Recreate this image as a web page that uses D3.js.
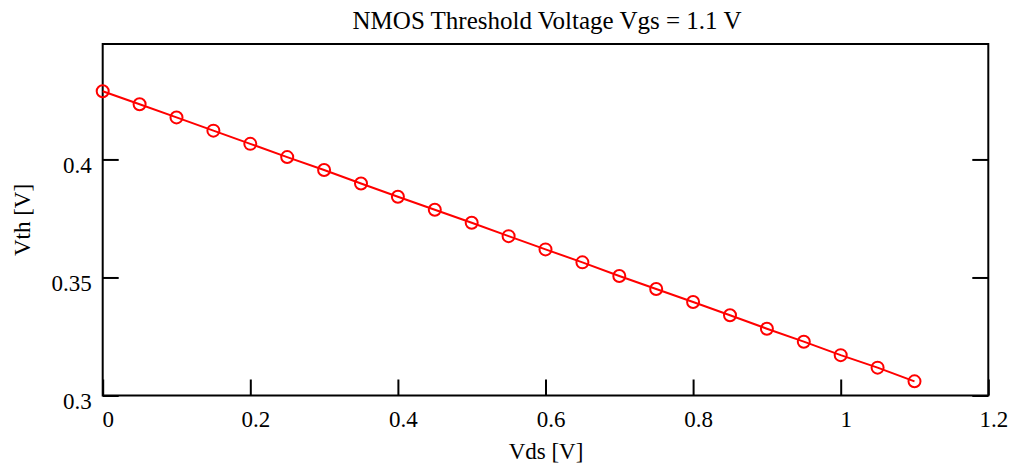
<!DOCTYPE html>
<html>
<head>
<meta charset="utf-8">
<script src="https://cdn.jsdelivr.net/npm/d3@7/dist/d3.min.js"></script>
<style>
  html, body { margin: 0; padding: 0; background: #fff; }
  svg { display: block; }
  text { font-family: "Liberation Serif", "Times New Roman", serif; fill: #000; }
</style>
</head>
<body>
<svg id="chart" width="1012" height="467"></svg>
<script>
// Data
const vds = [0, 0.05, 0.1, 0.15, 0.2, 0.25, 0.3, 0.35, 0.4, 0.45, 0.5, 0.55,
             0.6, 0.65, 0.7, 0.75, 0.8, 0.85, 0.9, 0.95, 1.0, 1.05, 1.1];
const vth = [0.4289, 0.4234, 0.4178, 0.4122, 0.4066, 0.4010, 0.3955, 0.3898,
             0.3842, 0.3787, 0.3732, 0.3675, 0.3619, 0.3564, 0.3506, 0.3451,
             0.3396, 0.3340, 0.3283, 0.3228, 0.3171, 0.3118, 0.3060];
const xTicks = [0, 0.2, 0.4, 0.6, 0.8, 1, 1.2];
const yTicks = [0.3, 0.35, 0.4];
const titleText = "NMOS Threshold Voltage Vgs = 1.1 V";
const xLabel = "Vds [V]";
const yLabel = "Vth [V]";

const svg = d3.select("#chart");
svg.append("rect").attr("width", 1012).attr("height", 467).attr("fill", "#fff");

const pL = 102.7, pR = 988.3, pT = 44, pB = 395.5;
const x = d3.scaleLinear().domain([0, 1.2]).range([pL, pR]);
const y = d3.scaleLinear().domain([0.3, 0.4489]).range([pB, pT]);

const points = vds.map((v, i) => ({x: v, y: vth[i]}));

// Ticks (inward)
const tickLen = 16;
const g = svg.append("g");
const xAxis = g.append("g").attr("transform", `translate(0,${pB})`)
  .call(d3.axisBottom(x).tickValues(xTicks).tickSize(-tickLen).tickFormat(d3.format("")));
xAxis.select(".domain").remove();
xAxis.selectAll("line").attr("stroke", "#000").attr("stroke-width", 2);
xAxis.selectAll("text").attr("y", 31).attr("dy", 0).attr("dx", 5)
  .style("font-size", "23px").attr("font-family", null);

const yAxis = g.append("g").attr("transform", `translate(${pL},0)`)
  .call(d3.axisLeft(y).tickValues(yTicks).tickSize(-tickLen).tickFormat(d3.format("")));
yAxis.select(".domain").remove();
yAxis.selectAll("line").attr("stroke", "#000").attr("stroke-width", 2);
yAxis.selectAll("text").attr("x", -11).attr("dy", 13)
  .style("font-size", "23px").attr("font-family", null);

const yAxisR = g.append("g").attr("transform", `translate(${pR},0)`)
  .call(d3.axisRight(y).tickValues(yTicks).tickSize(-tickLen).tickFormat(""));
yAxisR.select(".domain").remove();
yAxisR.selectAll("line").attr("stroke", "#000").attr("stroke-width", 2);

// Frame
svg.append("rect").attr("x", pL).attr("y", pT)
  .attr("width", pR - pL).attr("height", pB - pT)
  .attr("fill", "none").attr("stroke", "#000").attr("stroke-width", 2);

// Line
const line = d3.line().x(d => x(d.x)).y(d => y(d.y));
svg.append("path").datum(points).attr("d", line)
  .attr("fill", "none").attr("stroke", "#ff0000").attr("stroke-width", 2);

// Markers
svg.append("g").selectAll("circle").data(points).join("circle")
  .attr("cx", d => x(d.x)).attr("cy", d => y(d.y)).attr("r", 6)
  .attr("fill", "none").attr("stroke", "#ff0000").attr("stroke-width", 2);

// Title & labels
svg.append("text").attr("x", 547).attr("y", 29).attr("text-anchor", "middle")
  .style("font-size", "25px").text(titleText);
svg.append("text").attr("x", 546).attr("y", 459).attr("text-anchor", "middle")
  .style("font-size", "23px").text(xLabel);
svg.append("text").attr("transform", "translate(30,220) rotate(-90)")
  .attr("text-anchor", "middle").style("font-size", "23px").text(yLabel);
</script>
</body>
</html>
